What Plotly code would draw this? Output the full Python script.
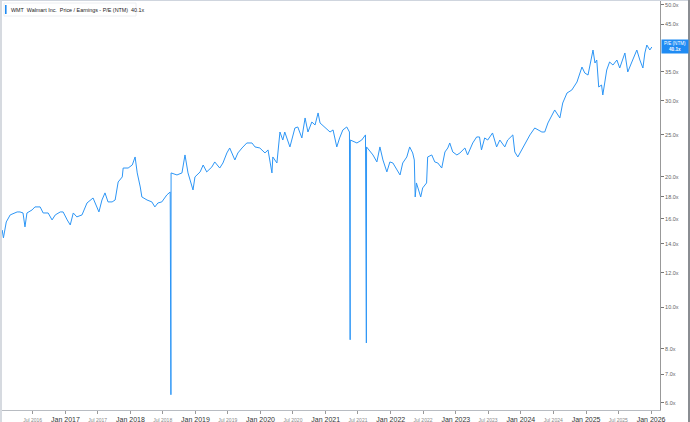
import math
import plotly.graph_objects as go

dates = [
    "2016-01-12", "2016-01-19", "2016-02-04", "2016-02-26", "2016-04-05", "2016-04-21", "2016-05-08", "2016-05-19",
    "2016-05-30", "2016-06-28", "2016-07-14", "2016-08-12", "2016-08-29", "2016-09-26", "2016-10-18", "2016-11-05",
    "2016-12-03", "2016-12-19", "2017-01-11", "2017-01-28", "2017-02-14", "2017-03-06", "2017-04-04", "2017-05-02",
    "2017-06-05", "2017-06-27", "2017-07-08", "2017-07-25", "2017-08-11", "2017-08-28", "2017-09-20", "2017-10-07",
    "2017-10-24", "2017-11-16", "2017-11-21", "2017-12-19", "2018-01-11", "2018-01-27", "2018-02-08", "2018-02-25",
    "2018-03-06", "2018-04-04", "2018-05-01", "2018-05-18", "2018-06-04", "2018-06-26", "2018-07-24", "2018-08-12",
    "2018-08-16", "2018-08-17", "2018-09-19", "2018-10-17", "2018-11-03", "2018-11-20", "2018-12-18", "2018-12-29",
    "2019-01-27", "2019-02-13", "2019-03-05", "2019-04-03", "2019-04-19", "2019-05-17", "2019-06-04", "2019-06-26",
    "2019-07-12", "2019-08-10", "2019-08-27", "2019-09-19", "2019-10-16", "2019-11-14", "2019-12-01", "2019-12-28",
    "2020-01-26", "2020-02-12", "2020-03-05", "2020-03-10", "2020-04-02", "2020-04-19", "2020-05-05", "2020-05-16",
    "2020-06-14", "2020-07-12", "2020-07-28", "2020-08-20", "2020-09-07", "2020-09-23", "2020-10-15", "2020-11-02",
    "2020-11-19", "2020-11-30", "2021-01-08", "2021-01-25", "2021-02-11", "2021-03-04", "2021-03-20", "2021-04-07",
    "2021-04-29", "2021-05-14", "2021-05-18", "2021-05-19", "2021-06-25", "2021-07-22", "2021-08-12", "2021-08-17",
    "2021-08-18", "2021-09-23", "2021-10-15", "2021-11-01", "2021-11-18", "2021-12-10", "2021-12-27", "2022-01-13",
    "2022-02-05", "2022-02-22", "2022-03-09", "2022-04-01", "2022-04-17", "2022-05-04", "2022-05-13", "2022-05-18",
    "2022-05-25", "2022-06-18", "2022-06-29", "2022-07-21", "2022-07-27", "2022-08-19", "2022-09-05", "2022-09-22",
    "2022-10-14", "2022-11-01", "2022-11-17", "2022-11-28", "2022-12-15", "2023-01-07", "2023-01-24", "2023-02-21",
    "2023-03-08", "2023-04-06", "2023-04-28", "2023-05-14", "2023-05-25", "2023-06-12", "2023-06-29", "2023-07-26",
    "2023-08-18", "2023-09-05", "2023-10-03", "2023-10-19", "2023-11-17", "2023-11-28", "2023-12-15", "2024-01-12",
    "2024-02-21", "2024-03-19", "2024-04-28", "2024-05-14", "2024-06-01", "2024-07-09", "2024-08-07", "2024-08-23",
    "2024-09-16", "2024-10-13", "2024-11-11", "2024-12-09", "2024-12-25", "2025-01-12", "2025-02-09", "2025-02-20",
    "2025-03-02", "2025-03-13", "2025-03-29", "2025-04-05", "2025-04-16", "2025-04-27", "2025-05-13", "2025-06-01",
    "2025-06-23", "2025-07-09", "2025-08-07", "2025-08-23", "2025-09-15", "2025-10-13", "2025-10-30", "2025-11-16",
    "2025-11-27", "2025-12-08", "2025-12-25", "2026-01-05",
]

pe_ntm = [
    15.07, 14.45, 15.73, 16.33, 16.59, 16.59, 16.50, 15.32,
    16.50, 16.77, 17.04, 17.04, 16.50, 16.50, 15.90, 16.33,
    16.59, 16.59, 15.90, 15.48, 16.50, 16.16, 16.33, 17.40,
    17.87, 16.95, 16.59, 17.68, 18.36, 17.50, 17.50, 17.68,
    19.46, 19.99, 20.96, 20.96, 21.30, 22.23, 20.42, 18.95,
    17.97, 17.68, 17.50, 17.04, 17.40, 17.50, 18.16, 18.45,
    6.27, 20.42, 20.20, 20.42, 22.47, 20.42, 18.65, 19.99,
    20.53, 21.30, 20.53, 21.08, 21.65, 20.96, 21.53, 22.71,
    23.32, 21.88, 22.71, 23.32, 23.95, 23.95, 23.45, 23.32,
    22.71, 23.08, 20.42, 22.23, 21.53, 25.39, 24.33, 25.39,
    23.45, 25.94, 26.08, 24.60, 27.36, 25.39, 26.78, 26.36,
    28.10, 26.64, 25.67, 25.39, 25.67, 23.45, 24.60, 25.67,
    26.08, 25.39, 8.40, 24.33, 23.95, 24.33, 25.00, 8.26,
    23.45, 22.47, 21.65, 23.45, 21.88, 20.53, 21.65, 21.53,
    20.75, 20.20, 21.53, 22.23, 23.45, 22.71, 21.88, 17.97,
    19.36, 17.97, 18.85, 19.36, 22.23, 22.47, 21.65, 21.53,
    20.96, 22.83, 23.32, 23.95, 22.83, 22.47, 22.71, 23.32,
    22.47, 23.95, 24.73, 24.73, 23.08, 24.60, 24.33, 25.26,
    23.45, 24.33, 23.45, 24.33, 25.00, 22.83, 22.23, 23.32,
    25.00, 25.94, 25.39, 25.39, 26.64, 28.55, 27.36, 29.63,
    31.25, 31.75, 33.13, 35.89, 34.76, 34.39, 39.29, 36.66,
    37.25, 32.27, 32.61, 30.92, 32.96, 35.32, 36.86, 36.27,
    37.25, 35.70, 38.67, 34.95, 36.86, 39.29, 37.25, 35.70,
    38.67, 40.35, 39.29, 39.92,
]

y_tick_values = [6, 7, 8, 10, 12, 14, 16, 18, 20, 25, 30, 35, 45, 50]
y_tick_labels = ["6.0x", "7.0x", "8.0x", "10.0x", "12.0x", "14.0x", "16.0x", "18.0x",
                 "20.0x", "25.0x", "30.0x", "35.0x", "45.0x", "50.0x"]

x_tick_values = ["2016-07-01", "2017-01-01", "2017-07-01", "2018-01-01", "2018-07-01", "2019-01-01",
                 "2019-07-01", "2020-01-01", "2020-07-01", "2021-01-01", "2021-07-01", "2022-01-01",
                 "2022-07-01", "2023-01-01", "2023-07-01", "2024-01-01", "2024-07-01", "2025-01-01",
                 "2025-07-01", "2026-01-01"]
x_tick_labels = ["Jul 2016", "Jan 2017", "Jul 2017", "Jan 2018", "Jul 2018", "Jan 2019", "Jul 2019",
                 "Jan 2020", "Jul 2020", "Jan 2021", "Jul 2021", "Jan 2022", "Jul 2022", "Jan 2023",
                 "Jul 2023", "Jan 2024", "Jul 2024", "Jan 2025", "Jul 2025", "Jan 2026"]

last_value = 40.1
last_value_label = "40.1x"
legend_text = "WMT  Walmart Inc.  Price / Earnings - P/E (NTM)  " + last_value_label

LINE = "#2d96f6"
BOX = "#1f8bf3"
FONT = "Liberation Sans, Arial, sans-serif"

def fmt_x(lbl):
    if lbl.startswith("Jul"):
        return '<span style="font-size:5px;color:#888">' + lbl + "</span>"
    return lbl

fig = go.Figure()
fig.add_trace(go.Scatter(
    x=dates, y=pe_ntm, mode="lines",
    line=dict(color=LINE, width=1),
    hoverinfo="skip", showlegend=False,
))

W, H = 690, 422
L, R, T, B = 2, 30, 1, 12
pw, ph = W - L - R, H - T - B

def px_x(p):
    return (p - L) / pw

def px_y(p):
    return (H - B - p) / ph

fig.update_layout(
    width=W, height=H,
    margin=dict(l=L, r=R, t=T, b=B, pad=0, autoexpand=False),
    paper_bgcolor="white", plot_bgcolor="white",
    font=dict(family=FONT, color="#333"),
    hovermode=False,
    xaxis=dict(
        type="date", range=["2016-01-11", "2026-02-20"],
        showgrid=False, zeroline=False, automargin=False,
        showline=True, linecolor="#b8bcc2", linewidth=1,
        ticks="outside", ticklen=3, tickcolor="#999", tickwidth=1,
        tickvals=x_tick_values, ticktext=[fmt_x(t) for t in x_tick_labels],
        tickfont=dict(size=7, color="#333", family=FONT),
    ),
    yaxis=dict(
        type="log", side="right", automargin=False,
        range=[0.76193, 1.70757],
        showgrid=False, zeroline=False,
        showline=True, linecolor="#999", linewidth=1,
        ticks="outside", ticklen=3, tickcolor="#777", tickwidth=1,
        tickvals=y_tick_values, ticktext=y_tick_labels,
        tickfont=dict(size=5.5, color="#666", family=FONT),
    ),
    shapes=[
        dict(type="rect", xref="paper", yref="paper", x0=px_x(0), x1=px_x(2), y0=px_y(422), y1=px_y(0),
             fillcolor="#d6dae0", line=dict(width=0), layer="above"),
        dict(type="rect", xref="paper", yref="paper", x0=px_x(0), x1=px_x(690), y0=px_y(1), y1=px_y(0),
             fillcolor="#cfd5de", line=dict(width=0), layer="above"),
        dict(type="rect", xref="paper", yref="paper", x0=px_x(688), x1=px_x(690), y0=px_y(422), y1=px_y(0),
             fillcolor="#8a8d92", line=dict(width=0), layer="above"),
        dict(type="rect", xref="paper", yref="paper", x0=px_x(4), x1=px_x(136), y0=px_y(16), y1=px_y(3),
             fillcolor="white", line=dict(color="#eceef1", width=1), layer="above"),
        dict(type="rect", xref="paper", yref="paper", x0=px_x(5), x1=px_x(6.6), y0=px_y(14), y1=px_y(5),
             fillcolor=BOX, line=dict(width=0), layer="above"),
    ],
    annotations=[
        dict(xref="paper", yref="paper", x=px_x(9), y=px_y(9.5), xanchor="left", yanchor="middle",
             text=legend_text, showarrow=False,
             font=dict(size=5.4, color="#222", family=FONT)),
        dict(xref="paper", yref="y", x=1.0015, y=math.log10(last_value), xanchor="left", yanchor="middle",
             text="P/E (NTM)<br><b>" + last_value_label + "</b>", showarrow=False,
             bgcolor=BOX, borderpad=1, width=24, align="center",
             font=dict(size=4.6, color="white", family=FONT)),
    ],
)

fig.write_html("out.html", config={"displayModeBar": False, "staticPlot": True},
               post_script="document.body.style.margin='0';document.body.style.overflow='hidden';")
